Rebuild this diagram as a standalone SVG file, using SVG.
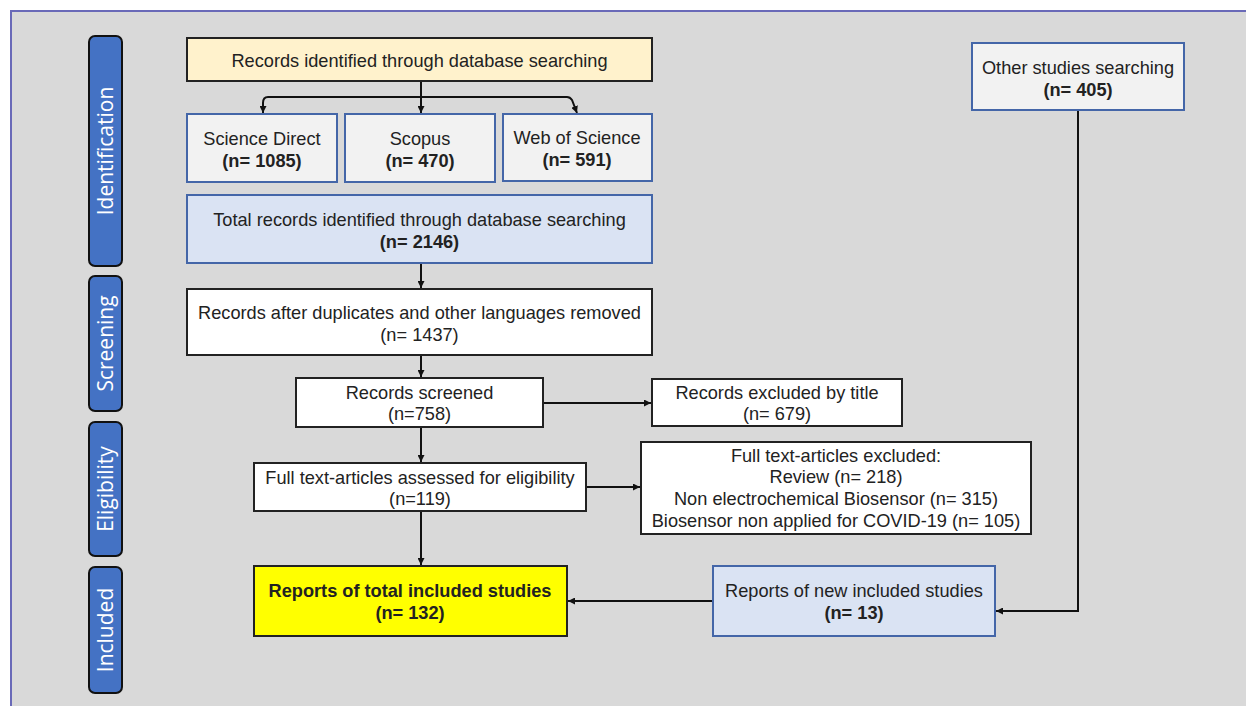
<svg xmlns="http://www.w3.org/2000/svg" width="1246" height="706" viewBox="0 0 1246 706">
<defs>
<marker id="ah" viewBox="0 0 10 10" refX="10" refY="5" markerWidth="7" markerHeight="7" markerUnits="userSpaceOnUse" orient="auto">
<path d="M0,0 L10,5 L0,10 z" fill="#111"/>
</marker>
<style>
.phase{fill:#4472c4;stroke:#111;stroke-width:2}
.ptxt{fill:#fff;font-family:"Open Sans","Noto Sans",sans-serif;font-size:21px;text-anchor:middle}
.t{font-family:"Liberation Sans",Arial,sans-serif;font-size:18.2px;fill:#222;text-anchor:middle}
.b{font-weight:bold}
.blk{stroke:#222;stroke-width:2}
.blu{stroke:#4466a8;stroke-width:2}
.con{fill:none;stroke:#111;stroke-width:2;marker-end:url(#ah)}
</style>
</defs>
<rect x="0" y="0" width="1246" height="706" fill="#fff"/>
<rect x="11" y="11" width="1240" height="705" fill="#d9d9d9" stroke="#6a6ab8" stroke-width="2"/>

<g id="phase-identification"><rect class="phase" x="89" y="36" width="33" height="230" rx="6"/><text class="ptxt" transform="translate(113,151) rotate(-90)">Identification</text></g>
<g id="phase-screening"><rect class="phase" x="89" y="276" width="33" height="135" rx="6"/><text class="ptxt" transform="translate(113,343.5) rotate(-90)">Screening</text></g>
<g id="phase-eligibility"><rect class="phase" x="89" y="422" width="33" height="134" rx="6"/><text class="ptxt" transform="translate(113,489) rotate(-90)">Eligibility</text></g>
<g id="phase-included"><rect class="phase" x="89" y="567" width="33" height="126" rx="6"/><text class="ptxt" transform="translate(113,630) rotate(-90)">Included</text></g>

<g id="connectors">
<path class="con" d="M421,81 V113"/>
<path class="con" d="M567,97 H268 Q263,97 263,103 V113"/>
<path class="con" d="M567,97 Q570,97 572,100 L577,113"/>
<path class="con" d="M421,263 V288"/>
<path class="con" d="M421,355 V377"/>
<path class="con" d="M543,403 H651"/>
<path class="con" d="M421,427 V462"/>
<path class="con" d="M586,487 H640"/>
<path class="con" d="M421,511 V565"/>
<path class="con" d="M713,601 H568"/>
<path class="con" d="M1078,110 V611 H996"/>
</g>

<g id="db-search"><rect class="blk" x="187" y="38" width="465" height="43" fill="#fff2cc"/><text class="t" x="419.5" y="66.5">Records identified through database searching</text></g>
<g id="science-direct"><rect class="blu" x="187" y="114" width="150" height="68" fill="#f2f2f2"/><text class="t" x="262" y="144.5">Science Direct</text><text class="t b" x="262" y="166.5">(n= 1085)</text></g>
<g id="scopus"><rect class="blu" x="345" y="114" width="150" height="68" fill="#f2f2f2"/><text class="t" x="420" y="144.5">Scopus</text><text class="t b" x="420" y="166.5">(n= 470)</text></g>
<g id="wos"><rect class="blu" x="503" y="114" width="149" height="67" fill="#f2f2f2"/><text class="t" x="577" y="143.5">Web of Science</text><text class="t b" x="577" y="165.5">(n= 591)</text></g>
<g id="total"><rect class="blu" x="187" y="195" width="465" height="68" fill="#dae3f3"/><text class="t" x="419.5" y="225.5">Total records identified through database searching</text><text class="t b" x="419.5" y="247.5">(n= 2146)</text></g>
<g id="other"><rect class="blu" x="972" y="43" width="212" height="67" fill="#f2f2f2"/><text class="t" x="1078" y="73.5">Other studies searching</text><text class="t b" x="1078" y="95.5">(n= 405)</text></g>
<g id="after-dups"><rect class="blk" x="187" y="289" width="465" height="66" fill="#fff"/><text class="t" x="419.5" y="318.5">Records after duplicates and other languages removed</text><text class="t" x="419.5" y="340.5">(n= 1437)</text></g>
<g id="screened"><rect class="blk" x="296" y="378" width="247" height="49" fill="#fff"/><text class="t" x="419.5" y="398.5">Records screened</text><text class="t" x="419.5" y="419.5">(n=758)</text></g>
<g id="excluded-title"><rect class="blk" x="652" y="379" width="250" height="47" fill="#fff"/><text class="t" x="777" y="398.5">Records excluded by title</text><text class="t" x="777" y="419.5">(n= 679)</text></g>
<g id="fulltext"><rect class="blk" x="254" y="463" width="332" height="48" fill="#fff"/><text class="t" x="420" y="483.5">Full text-articles assessed for eligibility</text><text class="t" x="420" y="504.5">(n=119)</text></g>
<g id="fulltext-excluded"><rect class="blk" x="641" y="442" width="390" height="92" fill="#fff"/><text class="t" x="836" y="461.5">Full text-articles excluded:</text><text class="t" x="836" y="482.5">Review (n= 218)</text><text class="t" x="836" y="504.5">Non electrochemical Biosensor (n= 315)</text><text class="t" x="836" y="526.5">Biosensor non applied for COVID-19 (n= 105)</text></g>
<g id="total-included"><rect class="blk" x="254" y="566" width="313" height="70" fill="#ffff00"/><text class="t b" x="410" y="596.5">Reports of total included studies</text><text class="t b" x="410" y="618.5">(n= 132)</text></g>
<g id="new-included"><rect class="blu" x="713" y="566" width="282" height="70" fill="#dae3f3"/><text class="t" x="854" y="596.5">Reports of new included studies</text><text class="t b" x="854" y="618.5">(n= 13)</text></g>
</svg>
